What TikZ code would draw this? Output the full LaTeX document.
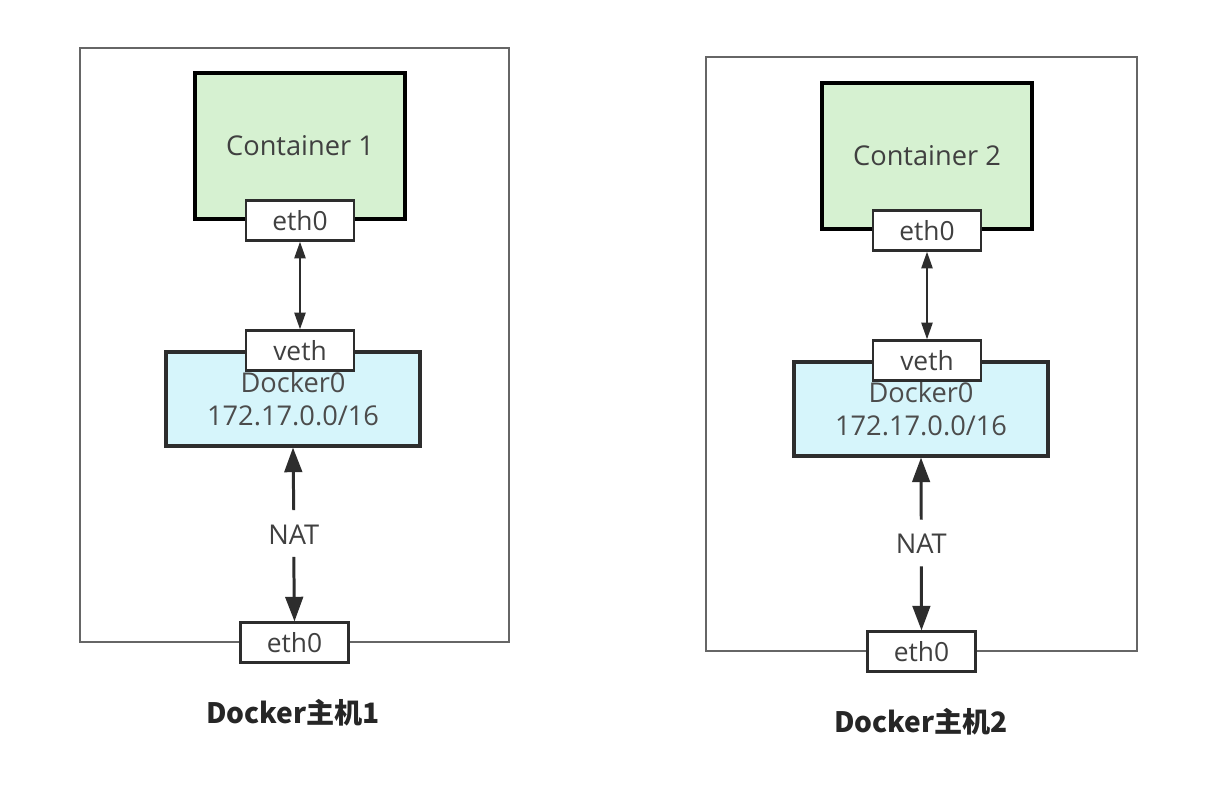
\documentclass[tikz,border=0pt]{standalone}
\usepackage{fontspec}
\setmainfont{Open Sans}
\newfontfamily\cjk{Noto Sans CJK SC}
\usetikzlibrary{arrows.meta, positioning, calc}

\definecolor{boxgreen}{RGB}{214,241,209}
\definecolor{boxblue}{RGB}{214,245,251}
\definecolor{inkgray}{RGB}{45,45,45}

\begin{document}
\begin{tikzpicture}[
                x = 0.02cm, y = -0.02cm, % one unit = one pixel
                semithick % line style
            ]

            \tikzset{
                host/.style = {draw = black!60, line width = 0.8pt, inner sep = 0pt,
                minimum height = 11.88cm},
                container/.style = {draw = black, line width = 1.8pt, fill = boxgreen,
                minimum width = 4.2cm, minimum height = 2.92cm, text = black!75,
                font = \fontsize{15.5}{18}\selectfont},
                port/.style = {draw = inkgray, line width = 1.4pt, fill = white,
                minimum width = 2.16cm, minimum height = 0.8cm, inner sep = 0pt,
                text = black!75, font = \fontsize{15}{18}\selectfont},
                bridge/.style = {draw = inkgray, line width = 1.8pt, fill = boxblue,
                minimum width = 5.08cm, minimum height = 1.88cm, align = center,
                text = black!70, font = \fontsize{15.5}{19}\selectfont},
                link/.style = {{Triangle[length = 9.5pt, width = 6.5pt]}-{Triangle[length = 9.5pt, width = 6.5pt]},
                draw = inkgray, line width = 0.8pt},
                natarrow/.style = {-{Triangle[length = 14pt, width = 10pt]},
                draw = inkgray, line width = 1.7pt},
                natlabel/.style = {inner sep = 0pt, text = black!75,
                font = \fontsize{15.5}{18}\selectfont},
                hostname/.style = {inner sep = 0pt, text = black!85,
                font = \cjk\bfseries\fontsize{16}{18}\selectfont}
            }

            \useasboundingbox [fill = white] (0,0) rectangle (1218,792);

            % Docker host 1
            \node (h1) [host, minimum width = 8.58cm] at (294.5,345) {};
            \node (c1) [container] at (300,146) {Container 1};
            \node (ce1) [port] at (c1.south) {eth0};
            \node (b1) [bridge] at (293,399) {Docker0\\172.17.0.0/16};
            \node (v1) [port] at (b1.north -| ce1) {veth};
            \node (e1) [port] at (h1.south) {eth0};
            \node (n1) [natlabel] at ($(b1.south)!0.5!(e1.north)$) {NAT};
            \node (t1) [hostname] at (293,713) {Docker主机1};

            \path (ce1) edge [link] (v1);
            \draw [natarrow] (n1.north) ++(0,-14) -- (b1.south);
            \draw [natarrow] (n1.south) ++(0,12) -- (e1.north);

            % Docker host 2
            \node (h2) [host, minimum width = 8.62cm] at (921.5,354) {};
            \node (c2) [container] at (927,156) {Container 2};
            \node (ce2) [port] at (c2.south) {eth0};
            \node (b2) [bridge] at (921,409) {Docker0\\172.17.0.0/16};
            \node (v2) [port] at (b2.north -| ce2) {veth};
            \node (e2) [port] at (h2.south) {eth0};
            \node (n2) [natlabel] at ($(b2.south)!0.5!(e2.north)$) {NAT};
            \node (t2) [hostname] at (921,722) {Docker主机2};

            \path (ce2) edge [link] (v2);
            \draw [natarrow] (n2.north) ++(0,-14) -- (b2.south);
            \draw [natarrow] (n2.south) ++(0,12) -- (e2.north);

        \end{tikzpicture}
\end{document}
